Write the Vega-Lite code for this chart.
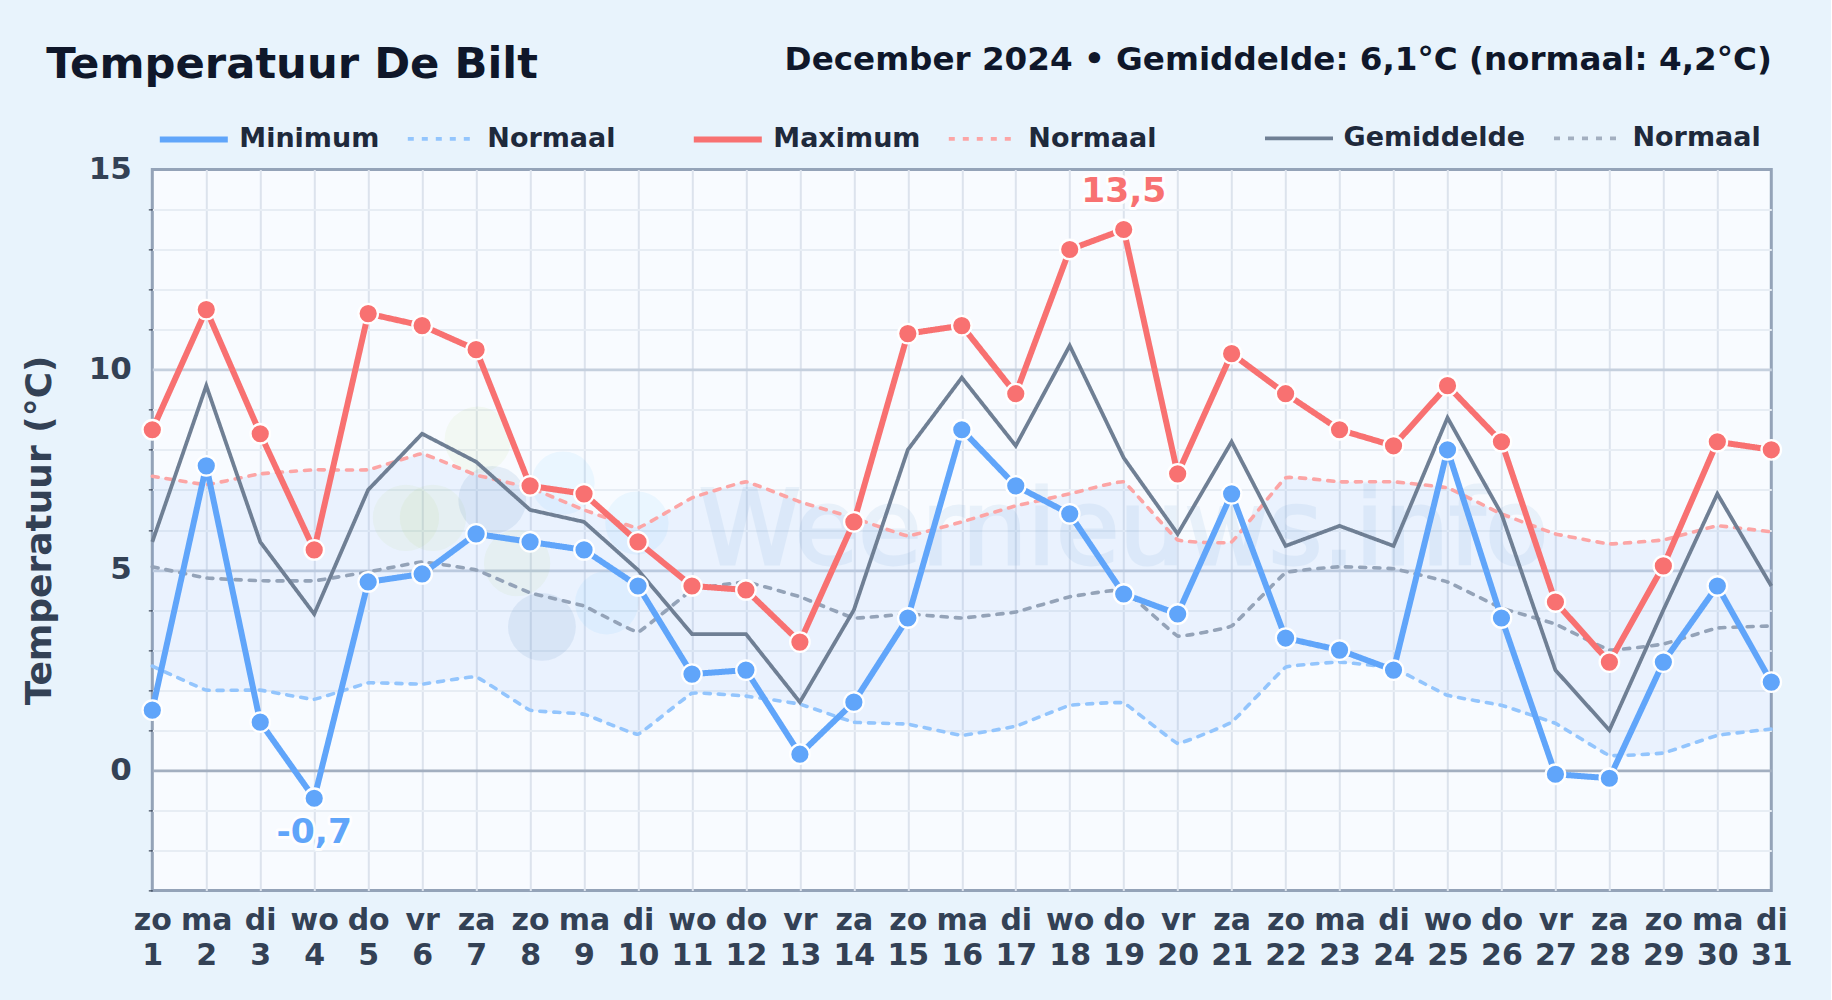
{
"$schema":"https://vega.github.io/schema/vega-lite/v6.json",
"width":1619,"height":721,
"autosize":"none",
"padding":{"left":152.3,"top":169.4,"right":60,"bottom":110},
"background":"#e8f3fc",
"config":{"view":{"fill":"#f8fbff","stroke":"#94a3b8","strokeWidth":3},"font":"DejaVu Sans"},
"title":{"text":"Temperatuur De Bilt","anchor":"start","frame":"group","dx":-106,"offset":-77,"baseline":"alphabetic","font":"DejaVu Sans","fontSize":43.3,"fontWeight":"bold","color":"#0f172a"},
"datasets":{
"days":[
{"day":1,"Minimum":1.5,"Maximum":8.5,"Gemiddelde":5.7,"Normaal min":2.6,"Normaal max":7.34,"Normaal gem":5.08},
{"day":2,"Minimum":7.6,"Maximum":11.5,"Gemiddelde":9.6,"Normaal min":2.0,"Normaal max":7.13,"Normaal gem":4.8},
{"day":3,"Minimum":1.2,"Maximum":8.4,"Gemiddelde":5.7,"Normaal min":2.0,"Normaal max":7.4,"Normaal gem":4.73},
{"day":4,"Minimum":-0.7,"Maximum":5.5,"Gemiddelde":3.9,"Normaal min":1.77,"Normaal max":7.5,"Normaal gem":4.73},
{"day":5,"Minimum":4.7,"Maximum":11.4,"Gemiddelde":7.0,"Normaal min":2.18,"Normaal max":7.5,"Normaal gem":4.95},
{"day":6,"Minimum":4.9,"Maximum":11.1,"Gemiddelde":8.4,"Normaal min":2.15,"Normaal max":7.9,"Normaal gem":5.2},
{"day":7,"Minimum":5.9,"Maximum":10.5,"Gemiddelde":7.7,"Normaal min":2.33,"Normaal max":7.37,"Normaal gem":5.0},
{"day":8,"Minimum":5.7,"Maximum":7.1,"Gemiddelde":6.5,"Normaal min":1.5,"Normaal max":7.05,"Normaal gem":4.43},
{"day":9,"Minimum":5.5,"Maximum":6.9,"Gemiddelde":6.2,"Normaal min":1.4,"Normaal max":6.5,"Normaal gem":4.1},
{"day":10,"Minimum":4.6,"Maximum":5.7,"Gemiddelde":5.0,"Normaal min":0.9,"Normaal max":6.05,"Normaal gem":3.45},
{"day":11,"Minimum":2.4,"Maximum":4.6,"Gemiddelde":3.4,"Normaal min":1.92,"Normaal max":6.8,"Normaal gem":4.5},
{"day":12,"Minimum":2.5,"Maximum":4.5,"Gemiddelde":3.4,"Normaal min":1.85,"Normaal max":7.2,"Normaal gem":4.7},
{"day":13,"Minimum":0.4,"Maximum":3.2,"Gemiddelde":1.7,"Normaal min":1.65,"Normaal max":6.7,"Normaal gem":4.33},
{"day":14,"Minimum":1.7,"Maximum":6.2,"Gemiddelde":4.0,"Normaal min":1.2,"Normaal max":6.3,"Normaal gem":3.8},
{"day":15,"Minimum":3.8,"Maximum":10.9,"Gemiddelde":8.0,"Normaal min":1.15,"Normaal max":5.85,"Normaal gem":3.9},
{"day":16,"Minimum":8.5,"Maximum":11.1,"Gemiddelde":9.8,"Normaal min":0.87,"Normaal max":6.2,"Normaal gem":3.8},
{"day":17,"Minimum":7.1,"Maximum":9.4,"Gemiddelde":8.1,"Normaal min":1.1,"Normaal max":6.6,"Normaal gem":3.95},
{"day":18,"Minimum":6.4,"Maximum":13.0,"Gemiddelde":10.6,"Normaal min":1.62,"Normaal max":6.9,"Normaal gem":4.33},
{"day":19,"Minimum":4.4,"Maximum":13.5,"Gemiddelde":7.8,"Normaal min":1.68,"Normaal max":7.2,"Normaal gem":4.5},
{"day":20,"Minimum":3.9,"Maximum":7.4,"Gemiddelde":5.9,"Normaal min":0.67,"Normaal max":5.75,"Normaal gem":3.35},
{"day":21,"Minimum":6.9,"Maximum":10.4,"Gemiddelde":8.2,"Normaal min":1.2,"Normaal max":5.7,"Normaal gem":3.6},
{"day":22,"Minimum":3.3,"Maximum":9.4,"Gemiddelde":5.6,"Normaal min":2.57,"Normaal max":7.3,"Normaal gem":4.93},
{"day":23,"Minimum":3.0,"Maximum":8.5,"Gemiddelde":6.1,"Normaal min":2.7,"Normaal max":7.2,"Normaal gem":5.08},
{"day":24,"Minimum":2.5,"Maximum":8.1,"Gemiddelde":5.6,"Normaal min":2.55,"Normaal max":7.2,"Normaal gem":5.03},
{"day":25,"Minimum":8.0,"Maximum":9.6,"Gemiddelde":8.8,"Normaal min":1.87,"Normaal max":7.05,"Normaal gem":4.7},
{"day":26,"Minimum":3.8,"Maximum":8.2,"Gemiddelde":6.4,"Normaal min":1.62,"Normaal max":6.4,"Normaal gem":4.05},
{"day":27,"Minimum":-0.1,"Maximum":4.2,"Gemiddelde":2.5,"Normaal min":1.17,"Normaal max":5.9,"Normaal gem":3.65},
{"day":28,"Minimum":-0.2,"Maximum":2.7,"Gemiddelde":1.0,"Normaal min":0.37,"Normaal max":5.65,"Normaal gem":3.0},
{"day":29,"Minimum":2.7,"Maximum":5.1,"Gemiddelde":4.0,"Normaal min":0.43,"Normaal max":5.75,"Normaal gem":3.15},
{"day":30,"Minimum":4.6,"Maximum":8.2,"Gemiddelde":6.9,"Normaal min":0.87,"Normaal max":6.1,"Normaal gem":3.55},
{"day":31,"Minimum":2.2,"Maximum":8.0,"Gemiddelde":4.6,"Normaal min":1.03,"Normaal max":5.95,"Normaal gem":3.6}
]},
"data":{"name":"days"},
"resolve":{"scale":{"stroke":"independent","strokeDash":"independent","strokeWidth":"independent"},"axis":{"x":"independent","y":"independent"}},
"layer":[
{"mark":{"type":"area","interpolate":"cardinal","tension":0.8,"color":"#3b82f6","opacity":0.07},
 "encoding":{
  "x":{"field":"day","type":"quantitative","title":null,"scale":{"domain":[1,31],"nice":false,"zero":false},
   "axis":{"values":[1,2,3,4,5,6,7,8,9,10,11,12,13,14,15,16,17,18,19,20,21,22,23,24,25,26,27,28,29,30,31],"domain":false,"ticks":false,"grid":true,"gridColor":{"condition":{"test":"datum.value==1||datum.value==31","value":"transparent"},"value":"#dce3ed"},"gridWidth":2,"labelFont":"DejaVu Sans","labelFontSize":30,"labelFontWeight":"bold","labelColor":"#334155","labelPadding":15.5,"labelAngle":0,"labelOverlap":false,"labelBound":false,"labelFlush":false,"labelLineHeight":34.5,"labelExpr":"[['zo','ma','di','wo','do','vr','za'][(datum.value-1)%7], datum.value+'']"}},
  "y":{"field":"Normaal max","type":"quantitative","title":"Temperatuur (°C)","scale":{"domain":[-3,15],"nice":false,"zero":false},
   "axis":{"values":[-3,-2,-1,0,1,2,3,4,5,6,7,8,9,10,11,12,13,14,15],"domain":false,"tickSize":4,"tickWidth":1,"tickColor":{"condition":{"test":"datum.value%5==0","value":"transparent"},"value":"#1e293b"},"grid":true,"gridWidth":{"condition":{"test":"datum.value%5==0","value":2.6},"value":2},"gridColor":{"condition":[{"test":"datum.value==15||datum.value==-3","value":"transparent"},{"test":"datum.value==0","value":"#a3afc0"},{"test":"datum.value%5==0","value":"#c5d0de"}],"value":"#e7edf4"},"labelFont":"DejaVu Sans","labelFontSize":31,"labelFontWeight":"bold","labelColor":"#334155","labelPadding":17,"labelOverlap":false,"labelExpr":"datum.value%5==0?datum.label:''","titleFont":"DejaVu Sans","titleFontSize":36,"titleFontWeight":"bold","titleColor":"#334155","titleX":-113,"titleY":360.5,"titleBaseline":"middle"}},
  "y2":{"field":"Normaal min"}}},
{"data":{"values":[{"day":5.7,"temp":6.3},{"day":6.2,"temp":6.3},{"day":7.03,"temp":8.25},{"day":7.76,"temp":5.17}]},
 "mark":{"type":"point","filled":true,"size":4400,"color":"#84cc16","opacity":0.05,"strokeWidth":0},
 "encoding":{"x":{"field":"day","type":"quantitative","axis":null},"y":{"field":"temp","type":"quantitative","axis":null}}},
{"data":{"values":[{"day":8.61,"temp":7.17},{"day":9.98,"temp":6.17},{"day":9.42,"temp":4.18}]},
 "mark":{"type":"point","filled":true,"size":4000,"color":"#38bdf8","opacity":0.07},
 "encoding":{"x":{"field":"day","type":"quantitative","axis":null},"y":{"field":"temp","type":"quantitative","axis":null}}},
{"data":{"values":[{"day":7.3,"temp":6.75},{"day":8.22,"temp":3.58}]},
 "mark":{"type":"point","filled":true,"size":4600,"color":"#3b78b5","opacity":0.1},
 "encoding":{"x":{"field":"day","type":"quantitative","axis":null},"y":{"field":"temp","type":"quantitative","axis":null}}},
{"data":{"values":[{"day":19,"temp":5.15,"mark":"Weernieuws.info"}]},
 "mark":{"type":"text","align":"center","baseline":"alphabetic","font":"DejaVu Sans","fontSize":103,"color":"#3b82c6","stroke":"#3b82c6","strokeWidth":3,"opacity":0.08},
 "encoding":{"x":{"field":"day","type":"quantitative","axis":null},"y":{"field":"temp","type":"quantitative","axis":null},"text":{"field":"mark"}}},
{"mark":{"type":"line","interpolate":"cardinal","tension":0.8,"color":"#93c5fd","strokeWidth":3.6,"strokeDash":[6,8],"strokeCap":"round"},
 "encoding":{"x":{"field":"day","type":"quantitative","axis":null},"y":{"field":"Normaal min","type":"quantitative","axis":null}}},
{"mark":{"type":"line","interpolate":"cardinal","tension":0.8,"color":"#fca5a5","strokeWidth":3.6,"strokeDash":[6,8],"strokeCap":"round"},
 "encoding":{"x":{"field":"day","type":"quantitative","axis":null},"y":{"field":"Normaal max","type":"quantitative","axis":null}}},
{"mark":{"type":"line","interpolate":"cardinal","tension":0.8,"color":"#94a3b8","strokeWidth":3.6,"strokeDash":[6,8],"strokeCap":"round"},
 "encoding":{"x":{"field":"day","type":"quantitative","axis":null},"y":{"field":"Normaal gem","type":"quantitative","axis":null}}},
{"transform":[{"fold":["Gemiddelde"],"as":["reeks","temp"]}],
 "mark":{"type":"line"},
 "encoding":{"x":{"field":"day","type":"quantitative","axis":null},"y":{"field":"temp","type":"quantitative","axis":null},
  "stroke":{"field":"reeks","type":"ordinal","scale":{"domain":["Gemiddelde","Normaal gem"],"range":["#6f7f94","#a3afc0"]},
   "legend":{"orient":"none","legendX":1110.7,"legendY":-67,"direction":"horizontal","columns":2,"title":null,"symbolType":"stroke","symbolSize":4624,"labelFont":"DejaVu Sans","labelFontSize":27,"labelFontWeight":"bold","labelColor":"#1e293b","labelOffset":8.5,"labelLimit":400,"columnPadding":20,"gridAlign":"each","padding":0,"labelExpr":"indexof(datum.label,'Normaal')==0?'Normaal':datum.label"}},
  "strokeDash":{"field":"reeks","type":"ordinal","scale":{"domain":["Gemiddelde","Normaal gem"],"range":[[1,0],[6,8]]}},
  "strokeWidth":{"field":"reeks","type":"ordinal","scale":{"domain":["Gemiddelde","Normaal gem"],"range":[3.8,3.6]}}}},
{"transform":[{"fold":["Minimum"],"as":["reeks","temp"]}],
 "mark":{"type":"line","strokeCap":"round"},
 "encoding":{"x":{"field":"day","type":"quantitative","axis":null},"y":{"field":"temp","type":"quantitative","axis":null},
  "stroke":{"field":"reeks","type":"ordinal","scale":{"domain":["Minimum","Normaal min"],"range":["#60a5fa","#93c5fd"]},
   "legend":{"orient":"none","legendX":4.5,"legendY":-67,"direction":"horizontal","columns":2,"title":null,"symbolType":"stroke","symbolSize":4624,"labelFont":"DejaVu Sans","labelFontSize":27,"labelFontWeight":"bold","labelColor":"#1e293b","labelOffset":8.5,"labelLimit":400,"columnPadding":20,"gridAlign":"each","padding":0,"labelExpr":"indexof(datum.label,'Normaal')==0?'Normaal':datum.label","encoding":{"symbols":{"update":{"strokeCap":{"value":"round"}}}}}},
  "strokeDash":{"field":"reeks","type":"ordinal","scale":{"domain":["Minimum","Normaal min"],"range":[[1,0],[6,8]]}},
  "strokeWidth":{"field":"reeks","type":"ordinal","scale":{"domain":["Minimum","Normaal min"],"range":[6,3.6]}}}},
{"transform":[{"fold":["Maximum"],"as":["reeks","temp"]}],
 "mark":{"type":"line","strokeCap":"round"},
 "encoding":{"x":{"field":"day","type":"quantitative","axis":null},"y":{"field":"temp","type":"quantitative","axis":null},
  "stroke":{"field":"reeks","type":"ordinal","scale":{"domain":["Maximum","Normaal max"],"range":["#f87171","#fca5a5"]},
   "legend":{"orient":"none","legendX":538.5,"legendY":-67,"direction":"horizontal","columns":2,"title":null,"symbolType":"stroke","symbolSize":4624,"labelFont":"DejaVu Sans","labelFontSize":27,"labelFontWeight":"bold","labelColor":"#1e293b","labelOffset":8.5,"labelLimit":400,"columnPadding":20,"gridAlign":"each","padding":0,"labelExpr":"indexof(datum.label,'Normaal')==0?'Normaal':datum.label","encoding":{"symbols":{"update":{"strokeCap":{"value":"round"}}}}}},
  "strokeDash":{"field":"reeks","type":"ordinal","scale":{"domain":["Maximum","Normaal max"],"range":[[1,0],[6,8]]}},
  "strokeWidth":{"field":"reeks","type":"ordinal","scale":{"domain":["Maximum","Normaal max"],"range":[6,3.6]}}}},
{"mark":{"type":"point","filled":true,"size":380,"fill":"#60a5fa","stroke":"#ffffff","strokeWidth":2.3,"opacity":1},
 "encoding":{"x":{"field":"day","type":"quantitative","axis":null},"y":{"field":"Minimum","type":"quantitative","axis":null}}},
{"mark":{"type":"point","filled":true,"size":380,"fill":"#f87171","stroke":"#ffffff","strokeWidth":2.3,"opacity":1},
 "encoding":{"x":{"field":"day","type":"quantitative","axis":null},"y":{"field":"Maximum","type":"quantitative","axis":null}}},
{"data":{"values":[{"day":4,"temp":-0.7,"label":"-0,7"}]},
 "mark":{"type":"text","align":"center","baseline":"alphabetic","dy":45,"font":"DejaVu Sans","fontSize":34.5,"fontWeight":"bold","stroke":"#ffffff","strokeWidth":6,"strokeJoin":"round","opacity":0.9},
 "encoding":{"x":{"field":"day","type":"quantitative","axis":null},"y":{"field":"temp","type":"quantitative","axis":null},"text":{"field":"label"}}},
{"data":{"values":[{"day":19,"temp":13.5,"label":"13,5"}]},
 "mark":{"type":"text","align":"center","baseline":"alphabetic","dy":-27.5,"font":"DejaVu Sans","fontSize":34.5,"fontWeight":"bold","stroke":"#ffffff","strokeWidth":6,"strokeJoin":"round","opacity":0.9},
 "encoding":{"x":{"field":"day","type":"quantitative","axis":null},"y":{"field":"temp","type":"quantitative","axis":null},"text":{"field":"label"}}},
{"data":{"values":[{"day":4,"temp":-0.7,"label":"-0,7"}]},
 "mark":{"type":"text","align":"center","baseline":"alphabetic","dy":45,"font":"DejaVu Sans","fontSize":34.5,"fontWeight":"bold","color":"#60a5fa"},
 "encoding":{"x":{"field":"day","type":"quantitative","axis":null},"y":{"field":"temp","type":"quantitative","axis":null},"text":{"field":"label"}}},
{"data":{"values":[{"day":19,"temp":13.5,"label":"13,5"}]},
 "mark":{"type":"text","align":"center","baseline":"alphabetic","dy":-27.5,"font":"DejaVu Sans","fontSize":34.5,"fontWeight":"bold","color":"#f87171"},
 "encoding":{"x":{"field":"day","type":"quantitative","axis":null},"y":{"field":"temp","type":"quantitative","axis":null},"text":{"field":"label"}}},
{"mark":{"type":"rule","opacity":0},
 "encoding":{"x":{"field":"day","type":"quantitative","axis":{"orient":"top","title":"December 2024 • Gemiddelde: 6,1°C (normaal: 4,2°C)","labels":false,"ticks":false,"domain":false,"grid":false,"titleFont":"DejaVu Sans","titleFontSize":32.6,"titleFontWeight":"bold","titleColor":"#0f172a","titleAlign":"right","titleAnchor":"end","titleBaseline":"alphabetic","titleX":1619,"titleY":-99.4}}}}
]
}
